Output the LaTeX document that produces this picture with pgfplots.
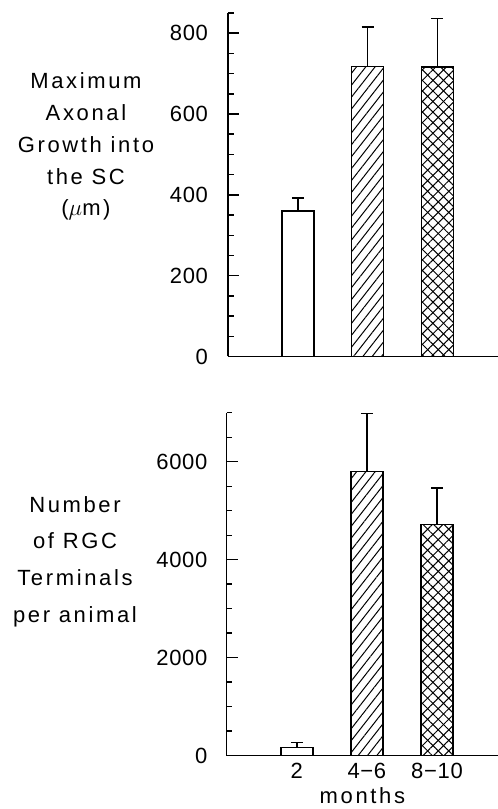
\documentclass[border=0pt]{standalone}
\usepackage{fontspec}
\setmainfont{Liberation Sans}[LetterSpace=12]
\newfontfamily\tickfont{Liberation Sans}[LetterSpace=3]
\usepackage{pgfplots}
\pgfplotsset{compat=1.18}
\usetikzlibrary{patterns.meta}
\newcommand{\lf}{\fontsize{16.5}{19}\selectfont}
\newcommand{\tf}{\tickfont\fontsize{16.5}{19}\selectfont}
\begin{document}
\begin{tikzpicture}
\useasboundingbox (0,0) rectangle (373.5pt,606.75pt);
\pgfplotsset{
  mystyle/.style={
    scale only axis,
    anchor=south west,
    axis x line=bottom, axis y line=left,
    axis line style={-, line width=1.2pt},
    xmin=-1, xmax=2.87,
    ymin=0,
    tick align=inside,
    major tick length=8.5pt, minor tick length=4.2pt,
    every tick/.style={line width=1.1pt, black},
    x tick style={draw=none},
    tick label style={font=\tf},
    /pgf/number format/assume math mode=true,
    /pgf/number format/set thousands separator={},
    scaled ticks=false,
    clip=false,
  },
  barst/.style={ybar, bar shift=0pt, bar width=24pt, draw=black, line width=1.1pt,
    /pgfplots/error bars/y dir=plus, /pgfplots/error bars/y explicit,
    /pgfplots/error bars/error bar style={line width=1.1pt, black},
    /pgfplots/error bars/error mark options={rotate=90, mark size=4.5pt, line width=1.1pt, black}},
  hatchA/.style={pattern={Lines[angle=52,distance=5.5pt,line width=0.75pt]}},
  hatchB/.style={pattern={Lines[angle=45,distance=5.6pt,line width=0.75pt]},
    postaction={pattern={Lines[angle=-45,distance=5.6pt,line width=0.75pt]}}},
}
\begin{axis}[mystyle,
  at={(171pt,339.4pt)}, width=202.5pt, height=257.6pt,
  ymax=850,
  ytick={0,200,400,600,800},
  minor ytick={50,100,...,850},
  xtick=\empty,
  yticklabel style={xshift=-11.5pt},
  every axis y label/.style={at={(axis description cs:-0.526,0.611)}, anchor=center, align=center, font={\fontsize{16.5}{23.8}\selectfont}},
  ylabel={Maximum\\Axonal\\Growth into\\the SC\\($\mu$m)},
]
\addplot[barst, fill=white] coordinates {(0,360) +- (0,32)};
\addplot[barst, hatchA] coordinates {(1,718) +- (0,97)};
\addplot[barst, hatchB] coordinates {(2,716) +- (0,120)};
\end{axis}
\begin{axis}[mystyle,
  at={(170pt,39.98pt)}, width=203.5pt, height=257.2pt,
  ymax=7000,
  ytick={0,2000,4000,6000},
  minor ytick={500,1000,...,7000},
  xtick={0,1,2},
  xticklabels={2,4−6,8−10},
  xticklabel style={yshift=-2pt},
  yticklabel style={xshift=-11pt},
  every axis y label/.style={at={(axis description cs:-0.559,0.566)}, anchor=center, align=center, font={\fontsize{16.5}{27.5}\selectfont}},
  ylabel={Number\\of RGC\\Terminals\\per animal},
  xlabel={months},
  xlabel style={font=\lf, yshift=-2.5pt, inner sep=1pt},
]
\addplot[barst, fill=white] coordinates {(0,172) +- (0,94)};
\addplot[barst, hatchA] coordinates {(1,5796) +- (0,1189)};
\addplot[barst, hatchB] coordinates {(2,4718) +- (0,744)};
\end{axis}
\end{tikzpicture}
\end{document}
